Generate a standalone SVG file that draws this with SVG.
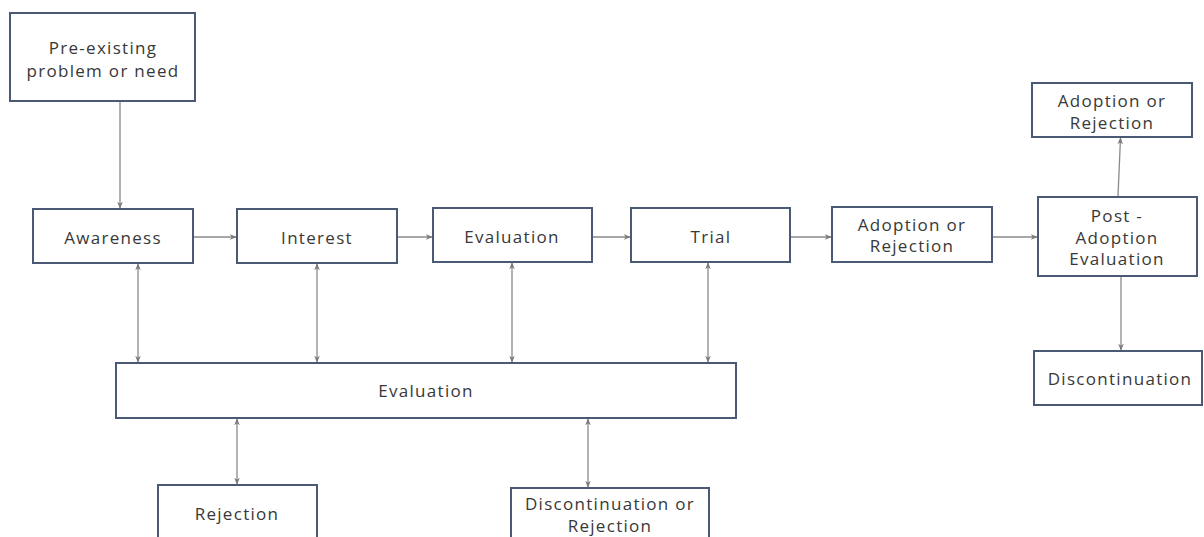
<svg xmlns="http://www.w3.org/2000/svg" width="1204" height="537" viewBox="0 0 1204 537">
<style>
.box{fill:#fff;stroke:#4b5a74;stroke-width:2}
.t{font-family:"Open Sans","Liberation Sans",sans-serif;font-size:17px;letter-spacing:1.3px;fill:#383838;text-anchor:middle;dominant-baseline:central}
.c{stroke:#8a8a8a;stroke-width:1.3;fill:none}
.one{marker-end:url(#ah)}
.two{marker-end:url(#ah);marker-start:url(#ahs)}
</style>
<defs>
<marker id="ah" viewBox="0 0 10 10" refX="9" refY="5" markerWidth="7" markerHeight="7" markerUnits="userSpaceOnUse" orient="auto">
<path d="M0,1 L10,5 L0,9 L3,5 Z" fill="#7a7a7a"/>
</marker>
<marker id="ahs" viewBox="0 0 10 10" refX="9" refY="5" markerWidth="7" markerHeight="7" markerUnits="userSpaceOnUse" orient="auto-start-reverse">
<path d="M0,1 L10,5 L0,9 L3,5 Z" fill="#7a7a7a"/>
</marker>
</defs>
<rect width="1204" height="537" fill="#fff"/>
<g id="connectors">
<line class="c one" x1="120" y1="102" x2="120" y2="208"/>
<line class="c one" x1="194" y1="237" x2="236" y2="237"/>
<line class="c one" x1="398" y1="237" x2="432" y2="237"/>
<line class="c one" x1="593" y1="237" x2="630" y2="237"/>
<line class="c one" x1="791" y1="237" x2="831" y2="237"/>
<line class="c one" x1="993" y1="237" x2="1037" y2="237"/>
<line class="c two" x1="138" y1="264" x2="138" y2="362"/>
<line class="c two" x1="317" y1="264" x2="317" y2="362"/>
<line class="c two" x1="512" y1="263" x2="512" y2="362"/>
<line class="c two" x1="708" y1="263" x2="708" y2="362"/>
<line class="c two" x1="237" y1="419" x2="237" y2="484"/>
<line class="c two" x1="588" y1="419" x2="588" y2="487"/>
<line class="c one" x1="1118" y1="196" x2="1120.5" y2="138"/>
<line class="c one" x1="1121" y1="277" x2="1121" y2="350"/>
</g>
<g id="preexisting">
<rect class="box" x="10" y="13" width="185" height="88"/>
<text class="t" x="103" y="47">Pre-existing</text>
<text class="t" x="103" y="70">problem or need</text>
</g>
<g id="awareness">
<rect class="box" x="33" y="209" width="160" height="54"/>
<text class="t" x="113" y="237">Awareness</text>
</g>
<g id="interest">
<rect class="box" x="237" y="209" width="160" height="54"/>
<text class="t" x="317" y="237">Interest</text>
</g>
<g id="evaluation1">
<rect class="box" x="433" y="208" width="159" height="54"/>
<text class="t" x="512" y="236">Evaluation</text>
</g>
<g id="trial">
<rect class="box" x="631" y="208" width="159" height="54"/>
<text class="t" x="711" y="236">Trial</text>
</g>
<g id="adoption1">
<rect class="box" x="832" y="207" width="160" height="55"/>
<text class="t" x="912" y="224">Adoption or</text>
<text class="t" x="912" y="245">Rejection</text>
</g>
<g id="postadoption">
<rect class="box" x="1038" y="197" width="159" height="79"/>
<text class="t" x="1117" y="215">Post -</text>
<text class="t" x="1117" y="237">Adoption</text>
<text class="t" x="1117" y="258">Evaluation</text>
</g>
<g id="adoption2">
<rect class="box" x="1032" y="83" width="160" height="54"/>
<text class="t" x="1112" y="100">Adoption or</text>
<text class="t" x="1112" y="122">Rejection</text>
</g>
<g id="discontinuation">
<rect class="box" x="1034" y="351" width="168" height="54"/>
<text class="t" x="1120" y="378">Discontinuation</text>
</g>
<g id="evaluation2">
<rect class="box" x="116" y="363" width="620" height="55"/>
<text class="t" x="426" y="390">Evaluation</text>
</g>
<g id="rejection">
<rect class="box" x="158" y="485" width="159" height="70"/>
<text class="t" x="237" y="513">Rejection</text>
</g>
<g id="discrej">
<rect class="box" x="511" y="488" width="198" height="70"/>
<text class="t" x="610" y="503">Discontinuation or</text>
<text class="t" x="610" y="525">Rejection</text>
</g>
</svg>
